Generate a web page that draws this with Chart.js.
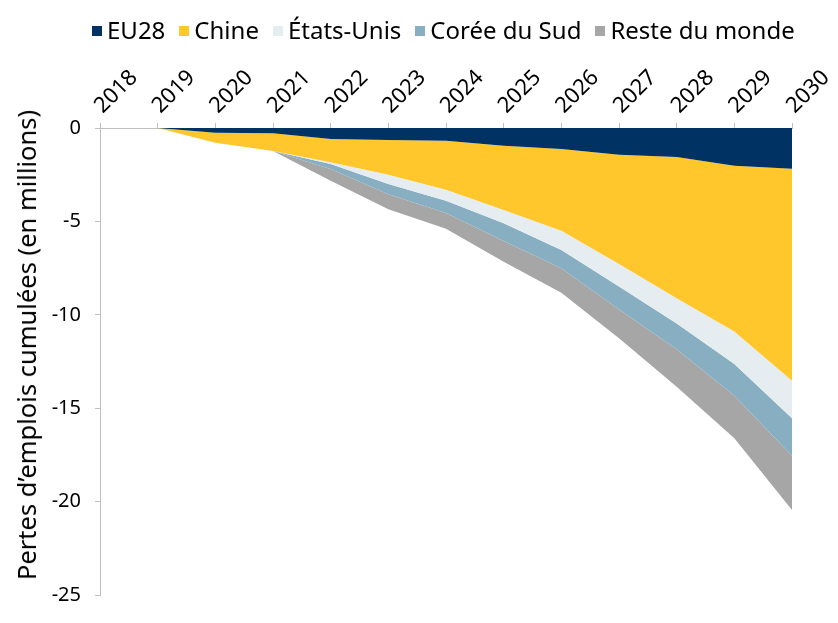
<!DOCTYPE html>
<html lang="fr">
<head>
<meta charset="utf-8">
<title>Pertes d'emplois cumulées</title>
<script src="https://cdn.jsdelivr.net/npm/chart.js@4.4.1/dist/chart.umd.min.js"></script>
<style>
  html, body { margin: 0; padding: 0; background: #fff; }
  #wrap { position: relative; width: 838px; height: 623px; font-family: "Noto Sans", sans-serif; color: #000; }
  #legend {
    position: absolute; top: 15px; left: 92px;
    display: flex; align-items: center;
    font-size: 24px; line-height: 30px; white-space: nowrap;
  }
  #legend .item { display: flex; align-items: center; margin-right: 14px; }
  #legend .box { width: 10px; height: 10px; margin-right: 5px; margin-top: 2px; }
  #ytitle {
    position: absolute; left: 26px; top: 345px;
    transform: translate(-50%, -50%) rotate(-90deg);
    font-size: 25.5px; line-height: 30px; white-space: nowrap;
  }
</style>
</head>
<body>
<div id="wrap">
  <canvas id="chart" width="838" height="623"></canvas>
  <div id="legend"></div>
  <div id="ytitle">Pertes d’emplois cumulées (en millions)</div>
</div>
<script>
// ===== Data (cumulative job losses, millions) =====
const years = ["2018","2019","2020","2021","2022","2023","2024","2025","2026","2027","2028","2029","2030"];
const eu28       = [0, 0, -0.25, -0.28, -0.59, -0.64, -0.68, -0.95, -1.12, -1.43, -1.55, -2.02, -2.18];
const chine      = [0, 0, -0.54, -0.95, -1.24, -1.86, -2.62, -3.44, -4.38, -5.85, -7.57, -8.88, -11.35];
const etatsUnis  = [0, 0, 0, 0, -0.10, -0.50, -0.60, -0.71, -1.03, -1.21, -1.34, -1.73, -2.01];
const coreeSud   = [0, 0, 0, 0, -0.27, -0.55, -0.65, -0.95, -0.98, -1.22, -1.39, -1.70, -2.00];
const resteMonde = [0, 0, 0, 0, -0.62, -0.80, -0.85, -1.11, -1.31, -1.55, -2.00, -2.28, -2.91];
const yTicks = [0, -5, -10, -15, -20, -25];

const seriesNames  = ["EU28", "Chine", "États-Unis", "Corée du Sud", "Reste du monde"];
const seriesColors = ["#003264", "#FFC72C", "#E5EDF1", "#88AFC1", "#A6A6A6"];
const seriesData   = [eu28, chine, etatsUnis, coreeSud, resteMonde];

const FONT = "Noto Sans";
const AXIS = "#BFBFBF";

// ===== Legend =====
const legendDiv = document.getElementById("legend");
seriesNames.forEach((name, i) => {
  const item = document.createElement("span");
  item.className = "item";
  item.innerHTML = `<span class="box" style="background:${seriesColors[i]}"></span><span>${name}</span>`;
  legendDiv.appendChild(item);
});

// ===== Chart =====
const datasets = seriesData.map((data, i) => ({
  label: seriesNames[i],
  data,
  backgroundColor: seriesColors[i],
  borderColor: seriesColors[i],
  borderWidth: 0,
  pointRadius: 0,
  tension: 0,
  fill: i === 0 ? "origin" : "-1"
}));

new Chart(document.getElementById("chart"), {
  type: "line",
  data: { labels: years, datasets },
  options: {
    responsive: false,
    animation: false,
    devicePixelRatio: 1,
    layout: { padding: { top: 0, right: 0, bottom: 28, left: 0 } },
    plugins: { legend: { display: false }, tooltip: { enabled: false } },
    scales: {
      x: {
        position: "top",
        offset: false,
        grid: { drawOnChartArea: false, tickLength: 5, color: AXIS },
        border: { color: AXIS },
        ticks: {
          autoSkip: false, minRotation: 45, maxRotation: 45,
          padding: 4, labelOffset: 17,
          color: "#000", font: { family: FONT, size: 22 }
        },
        afterFit: s => { s.height = 128; s.paddingRight = 46; s.paddingLeft = 0; }
      },
      y: {
        stacked: true,
        min: -25, max: 0,
        afterBuildTicks: s => { s.ticks = yTicks.map(v => ({ value: v })); },
        grid: { drawOnChartArea: false, tickLength: 5, color: AXIS },
        border: { color: AXIS },
        ticks: { padding: 14, color: "#000", font: { family: FONT, size: 20 } },
        afterFit: s => { s.width = 100; }
      }
    }
  }
});
</script>
</body>
</html>
